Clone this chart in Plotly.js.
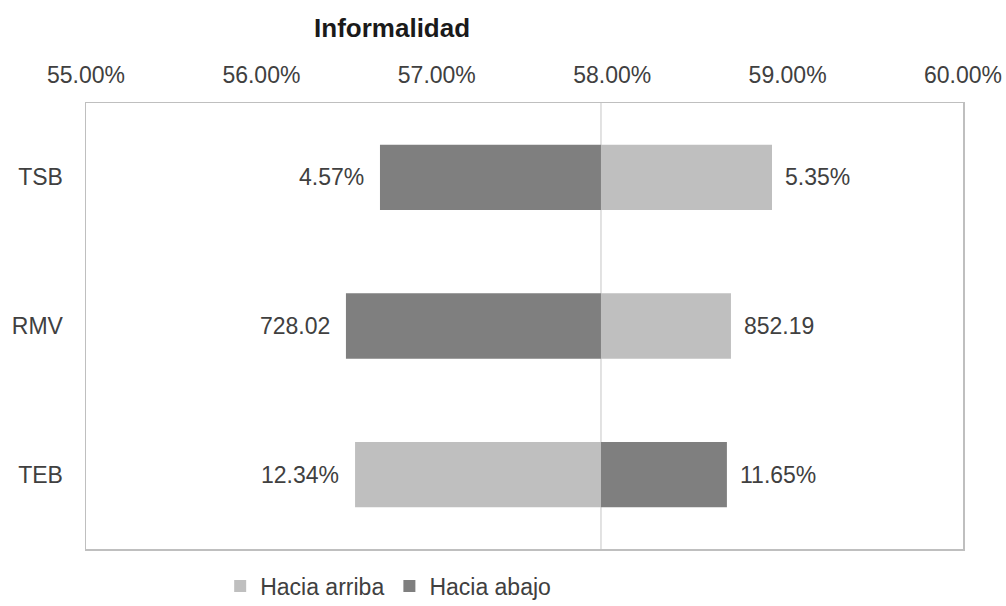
<!DOCTYPE html>
<html>
<head>
<meta charset="utf-8">
<script src="https://cdn.plot.ly/plotly-3.0.1.min.js"></script>
<style>html,body{margin:0;padding:0;background:#fff;}#chart{width:1006px;height:606px;}</style>
</head>
<body>
<div id="chart"></div>
<script>
const categories = ['TSB', 'RMV', 'TEB'];
const baseValue = 0.57936;
const arribaEnd = [0.58911, 0.58677, 0.56534];
const abajoEnd = [0.56676, 0.56482, 0.58654];
const arribaLabels = ['5.35%', '852.19', '12.34%'];
const abajoLabels = ['4.57%', '728.02', '11.65%'];
const tickVals = [0.55, 0.56, 0.57, 0.58, 0.59, 0.60];
const tickText = ['55.00%', '56.00%', '57.00%', '58.00%', '59.00%', '60.00%'];

const FONT = 'Liberation Sans, Arial, sans-serif';
const LIGHT = '#bfbfbf';
const DARK = '#7f7f7f';
const TXT = '#404040';
const FS = 23;

const traces = [
  {
    type: 'bar', orientation: 'h', name: 'Hacia arriba',
    y: categories,
    x: arribaEnd.map(v => v - baseValue),
    base: categories.map(() => baseValue),
    width: 0.44,
    marker: {color: LIGHT},
    hoverinfo: 'skip'
  },
  {
    type: 'bar', orientation: 'h', name: 'Hacia abajo',
    y: categories,
    x: abajoEnd.map(v => v - baseValue),
    base: categories.map(() => baseValue),
    width: 0.44,
    marker: {color: DARK},
    hoverinfo: 'skip'
  }
];

const annotations = [];
function addLabels(ends, labels) {
  ends.forEach((v, i) => {
    const left = v < baseValue;
    annotations.push({
      x: v, y: categories[i], xref: 'x', yref: 'y',
      text: labels[i], showarrow: false,
      xanchor: left ? 'right' : 'left',
      xshift: left ? -14 : 11,
      font: {family: FONT, size: FS, color: TXT}
    });
  });
}
addLabels(arribaEnd, arribaLabels);
addLabels(abajoEnd, abajoLabels);

const layout = {
  width: 1006, height: 606,
  margin: {l: 86, r: 43, t: 103, b: 57},
  paper_bgcolor: '#ffffff', plot_bgcolor: '#ffffff',
  barmode: 'overlay',
  showlegend: true,
  title: {
    text: '<b>Informalidad</b>',
    x: 0.349, xref: 'paper', xanchor: 'center',
    y: 1 - 28 / 606, yref: 'container', yanchor: 'middle',
    font: {family: FONT, size: 26, color: '#1a1a1a'}
  },
  xaxis: {
    side: 'top', range: [0.55, 0.60],
    tickvals: tickVals, ticktext: tickText,
    showgrid: false, zeroline: false,
    showline: true, mirror: true, linecolor: '#bfbfbf', linewidth: 1.5,
    ticks: '', ticklabelstandoff: 9,
    tickfont: {family: FONT, size: FS, color: TXT}
  },
  yaxis: {
    type: 'category', categoryorder: 'array', categoryarray: categories,
    autorange: 'reversed',
    showgrid: false, zeroline: false,
    showline: true, mirror: true, linecolor: '#bfbfbf', linewidth: 1.5,
    ticks: '', ticklabelstandoff: 17,
    tickfont: {family: FONT, size: FS, color: TXT}
  },
  shapes: [{
    type: 'line', xref: 'x', yref: 'paper',
    x0: baseValue, x1: baseValue, y0: 0, y1: 1,
    line: {color: '#d9d9d9', width: 1.5},
    layer: 'below'
  }],
  annotations: annotations,
  legend: {
    orientation: 'h', x: 0.153, xanchor: 'left',
    yref: 'container', y: 1 - 586 / 606, yanchor: 'middle',
    font: {family: FONT, size: FS, color: TXT},
    itemwidth: 30, tracegroupgap: 0
  }
};

Plotly.newPlot('chart', traces, layout, {displayModeBar: false, staticPlot: true});
</script>
</body>
</html>
